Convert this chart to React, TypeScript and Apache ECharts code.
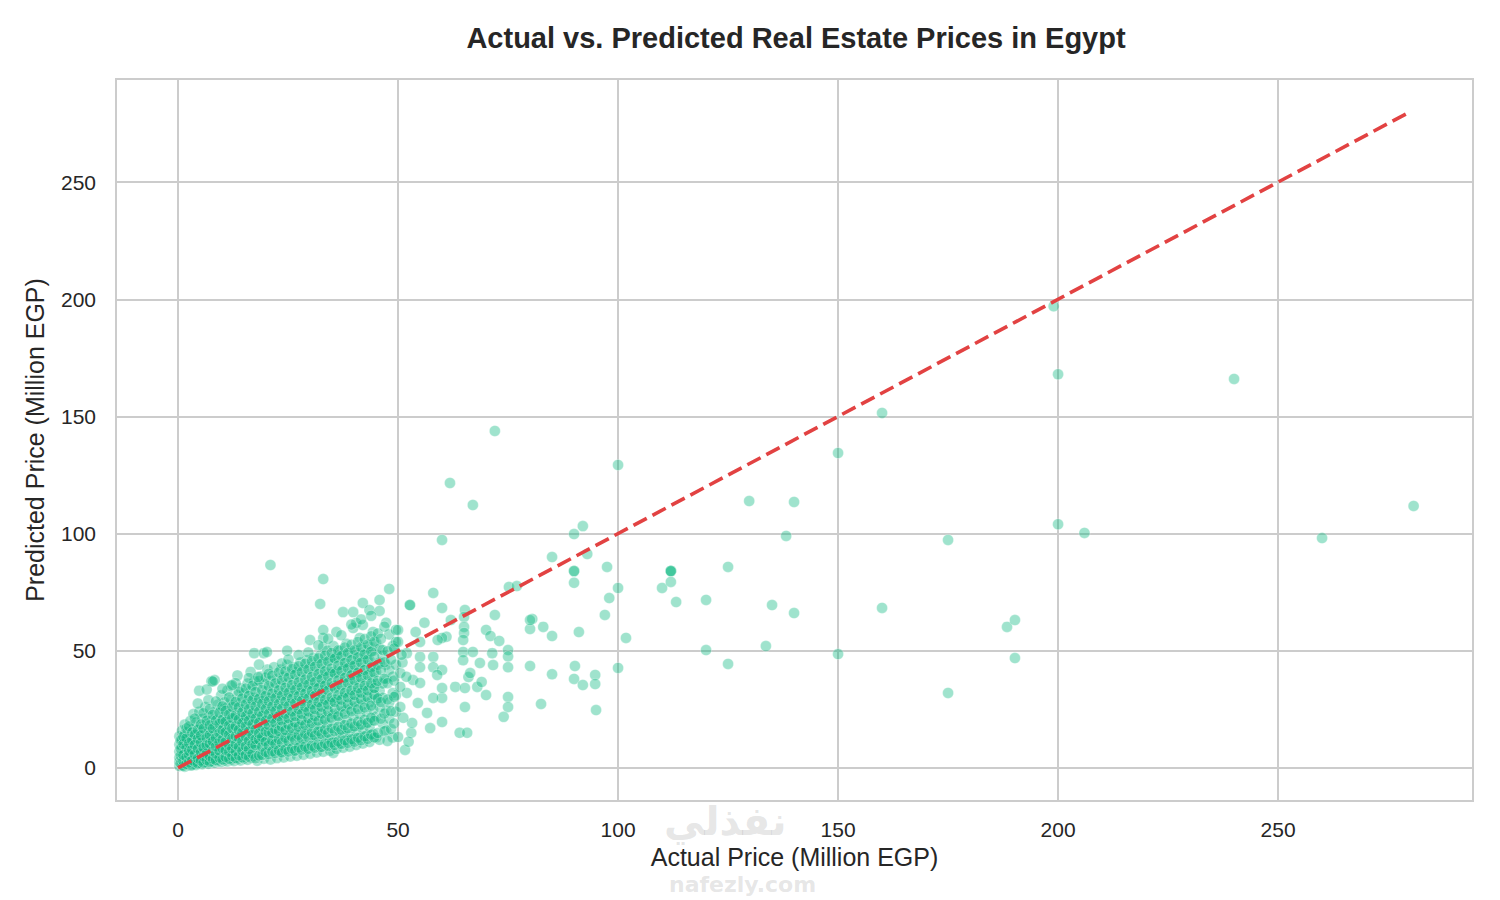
import { useEffect, useRef } from 'react';
import * as echarts from 'echarts';

// actual price (million EGP) vs predicted price (million EGP)
const TITLE = 'Actual vs. Predicted Real Estate Prices in Egypt';
const X_NAME = 'Actual Price (Million EGP)';
const Y_NAME = 'Predicted Price (Million EGP)';
const TICKS = [0, 50, 100, 150, 200, 250];
const PERFECT_LINE: [number, number][] = [[0, 0], [280, 280]];

// high priced properties, read one by one
const outlierPoints: [number, number][] = [
  [199, 197], [200, 168], [240, 166], [160, 151.5], [150, 134.4], [200, 104], [206, 100.3],
  [260, 98.1], [280.8, 111.8], [175, 97.3], [160, 68.3], [188.4, 60.2], [190.2, 63.1],
  [190.2, 46.9], [150, 48.6], [175, 32], [129.8, 113.9], [140, 113.5], [138.2, 99],
  [135, 69.5], [140, 66.1], [133.6, 52], [125, 44.4], [125, 85.8], [120, 71.7], [120, 50.3],
  [100, 129.3], [112, 84], [112, 84], [112, 84], [110, 76.8], [112, 79.4], [113.2, 70.8],
  [101.8, 55.5], [100, 42.7], [100, 76.8],
];

// middle range, 50 to 100, plus a few stray ones above the cluster
const midPoints: [number, number][] = [
  [72, 143.8], [61.8, 121.6], [67, 112.2], [90, 99.8], [92, 103.2], [60, 97.3], [85, 90],
  [93, 91.3], [97.5, 85.8], [90, 84], [90, 84], [90, 79], [98, 72.5], [97, 65.3], [91.1, 58],
  [90.2, 43.5], [90, 38], [92, 35.4], [94.8, 39.7], [94.8, 35.8], [95, 24.7], [85, 40],
  [80, 43.5], [82.5, 27.3], [83, 60.2], [85, 56.3], [80.5, 63.6], [80, 59.3], [72, 65.3],
  [75.2, 77.2], [77, 77.6], [70, 58.9], [71, 56.3], [73, 54.2], [75, 50.3], [75, 47.6],
  [75, 43], [71.6, 43.9], [71.4, 49], [68.6, 44.8], [68, 34.6], [69, 36.7], [70, 31.1],
  [75, 30.3], [75, 26], [74, 21.8], [65.2, 67.4], [65, 64.4], [65, 60.2], [65, 57.6],
  [64.8, 54.6], [64.8, 49.5], [64.8, 46], [67, 49.5], [66, 38.8], [66.4, 40.5], [63, 34.6],
  [65.2, 34.1], [65.2, 26], [64, 15], [65.7, 15], [60, 19.6], [60, 29.9], [60, 34.1],
  [62, 63.1], [60, 68.3], [58, 74.7], [61, 56], [60, 55.5], [59, 54.6], [55, 53.8],
  [55, 47.4], [58, 47.4], [55, 43], [58, 43], [60, 41.8], [58.9, 39.7], [52.7, 69.5],
  [52.7, 69.5], [50, 58.9], [50, 53.8], [50, 13.2], [51.6, 7.7], [53, 15], [53.2, 19.2],
  [57.3, 17], [56.6, 23.5], [54.5, 27.7], [58, 29.9], [50.5, 26], [52, 32], [53.4, 37.5],
  [55, 36.3], [50.5, 40.5], [50.5, 34.6], [51, 45], [52, 49], [54, 58], [56, 62], [80, 63.1],
  [51.2, 21.4], [52.4, 11.2], [50.8, 48.3], [51.9, 38.9],
  [12.3, 35.4], [18.2, 38.8], [21, 86.6], [20.2, 49.5],
];

// dense cluster below 50, written column by column: [actual, predicted values]
const clusterColumns: [number, number[]][] = [
  [0.3, [0.8, 2.5, 4.5, 7, 10, 13.5]],
  [0.9, [1.2, 3.5, 6, 9, 12, 16]],
  [1.5, [0.5, 2, 4, 7.5, 11, 14.5, 18.5]],
  [2.2, [1.5, 3.5, 6, 9, 12.5, 15.5]],
  [2.8, [1, 2.8, 5, 8, 11, 14, 20]],
  [3.5, [1.8, 4, 6.5, 9.5, 13, 17, 23]],
  [4.1, [1.3, 3, 5.5, 8.5, 11.5, 15, 19.5]],
  [4.8, [2.2, 4.5, 7, 10, 13.5, 17.5, 24, 33]],
  [5.5, [1.6, 3.5, 6, 9, 12, 15.5, 21]],
  [6.2, [2.4, 4.8, 7.5, 11, 14.5, 18.5, 26]],
  [6.9, [1.8, 4, 6.5, 9.5, 13, 16.5, 22, 29]],
  [7.6, [2.8, 5.5, 8.5, 12, 15.5, 20, 37]],
  [8.3, [2.2, 4.5, 7.5, 10.5, 14, 18, 24, 37.5]],
  [9.0, [3, 6, 9, 12.5, 16.5, 21, 27]],
  [9.8, [2.5, 5, 8, 11, 15, 19, 25, 31]],
  [10.5, [3.2, 6.5, 9.5, 13.5, 17.5, 22, 28]],
  [11.2, [2.8, 5.2, 8.5, 12, 16, 20.5, 26, 33]],
  [12.0, [3.5, 7, 10.5, 14.5, 18.5, 23, 29, 35]],
  [12.7, [3, 5.8, 9, 12.5, 16.5, 21, 27]],
  [13.5, [3.8, 7.5, 11, 15, 19.5, 24.5, 31, 39.5]],
  [14.2, [3.2, 6.2, 9.5, 13.5, 17.5, 22, 28, 34]],
  [15.0, [4, 8, 12, 16, 20.5, 25.5, 32]],
  [15.8, [3.5, 6.8, 10, 14, 18.5, 23, 29, 36]],
  [16.5, [4.3, 8.5, 12.5, 17, 21.5, 27, 33, 41]],
  [17.3, [5.1, 8.2, 10.5, 15, 19.5, 24.5, 30, 37, 49]],
  [18.0, [3.1, 10.4, 13, 17.5, 22, 28, 35]],
  [18.8, [6.2, 8.1, 11.5, 16, 20.5, 25.5, 31, 39]],
  [19.5, [3.9, 11.8, 14, 18.5, 23.5, 29, 36, 49]],
  [20.3, [6.8, 9.1, 12, 16.5, 21, 27, 33, 42]],
  [21.0, [3.6, 12.2, 14.5, 19.5, 24.5, 30, 37]],
  [21.8, [7.4, 9.9, 12.5, 17, 22, 27.5, 34, 43]],
  [22.5, [4.2, 8.4, 15.5, 20.5, 25.5, 31, 38]],
  [23.3, [6.9, 13.1, 13.5, 18, 23, 29, 35, 42]],
  [24.0, [4.5, 9.6, 16, 21, 26, 32, 39]],
  [24.8, [8.1, 11.7, 14, 19, 24, 30, 36, 44, 50]],
  [25.5, [4.9, 14.2, 16.5, 22, 27.5, 33, 40]],
  [26.3, [7.3, 9.2, 14.5, 19.5, 25, 31, 37, 43]],
  [27.0, [5.2, 13.6, 17.5, 23, 28.5, 34, 41]],
  [27.8, [8.8, 11.4, 15.5, 20.5, 26, 32, 38, 45]],
  [28.5, [5.6, 10.1, 18, 24, 29.5, 35, 42]],
  [29.3, [7.9, 14.4, 16, 21.5, 27, 33, 39, 46]],
  [30.0, [6.1, 11.6, 19, 25, 30.5, 36, 43, 54.6]],
  [30.8, [9.2, 13.8, 17, 22.5, 28, 34, 40, 47]],
  [31.5, [6.6, 12.1, 20, 26, 31.5, 37, 44]],
  [32.3, [8.8, 15.6, 17.5, 23.5, 29, 35, 41, 48, 70]],
  [33.0, [6.9, 12.8, 21, 27, 33, 38.5, 45, 51.6, 55.5, 58.9, 80.6]],
  [33.8, [9.9, 14.1, 18.5, 24.5, 30, 36, 42, 50]],
  [34.5, [7.4, 12.2, 21.5, 28, 34, 40, 46]],
  [35.3, [6.4, 11, 17, 23, 29, 35, 41, 47, 52]],
  [36.0, [8.1, 13.4, 22.5, 29, 35, 41, 47.5, 58]],
  [36.8, [10.6, 15.2, 19.5, 26, 32, 38, 44, 50]],
  [37.5, [8.6, 14.1, 24, 30, 36, 42, 48, 66.5]],
  [38.3, [11.7, 16.4, 20.5, 27, 33, 39, 45, 53]],
  [39.0, [9.1, 14.9, 25, 31, 37, 43, 49]],
  [39.8, [12.2, 17.8, 22, 28.5, 34.5, 40.5, 46.5, 59.7, 66.5]],
  [40.5, [9.8, 15.4, 26, 32, 38, 44, 50, 61.9]],
  [41.3, [12.9, 18.2, 23, 29.5, 35.5, 41.5, 47.5, 55.5]],
  [42.0, [10.4, 16.6, 27, 33, 39, 45, 51, 61, 70.4]],
  [42.8, [13.8, 19.1, 24, 30.5, 36.5, 42.5, 48.5]],
  [43.5, [11.1, 17.3, 28, 34, 40, 46, 52, 67.4]],
  [44.3, [14.6, 20.4, 25, 31.5, 37.5, 43.5, 50, 58]],
  [45.0, [13, 22, 29, 36, 41, 53.5]],
  [45.8, [12, 26, 33, 45, 51, 67, 71.7]],
  [46.5, [19, 30, 36, 48, 50.3]],
  [47.3, [16, 24.5, 38, 44, 62]],
  [48.0, [21, 28, 42, 57, 76.4]],
  [48.8, [13, 32, 39, 52]],
  [49.5, [24, 31, 44, 53.8, 58.9]],
];

// second pass over the same cluster, between the columns above
const clusterColumnsFill: [number, number[]][] = [
  [0.6, [2, 5.2, 8.3, 11.8]],
  [1.2, [0.9, 3.1, 5.6, 10.2, 13.4]],
  [1.9, [1.7, 4.6, 8.8, 12.7, 16.9]],
  [2.5, [2.4, 5.5, 7.3, 10.6, 17.8]],
  [3.2, [1.2, 3.3, 7.8, 11.9, 15.2]],
  [3.8, [2.6, 5.8, 9.9, 14.3, 21.1]],
  [4.5, [1.9, 4.1, 8.2, 12.4, 16.3, 27.5]],
  [5.2, [3.1, 6.7, 10.8, 13.9, 18.6]],
  [5.8, [2.2, 4.9, 8.7, 16.8, 23.4]],
  [6.5, [3.4, 6.1, 9.6, 12.9, 20.2, 33.5]],
  [7.2, [2.6, 5.1, 10.4, 14.1, 18.2, 25.1]],
  [7.9, [3.9, 7.2, 11.3, 16.9, 22.7, 36.9]],
  [8.6, [3.3, 6.1, 9.2, 12.8, 20.3, 28.4]],
  [9.4, [4.4, 7.4, 10.9, 14.8, 18.9, 23.6]],
  [10.1, [3.6, 8.3, 12.1, 16.2, 20.6, 26.3, 33.8]],
  [10.8, [4.7, 7.6, 11.2, 15.3, 19.8, 24.4]],
  [11.6, [3.9, 6.9, 9.8, 14.2, 18.1, 22.9, 30.1]],
  [12.3, [5.1, 8.4, 12.6, 16.9, 21.3, 26.1]],
  [13.1, [4.2, 7.1, 10.2, 13.6, 17.8, 22.4, 28.3, 36.2]],
  [13.8, [5.4, 9.1, 12.9, 16.2, 20.7, 25.9, 32.6]],
  [14.6, [4.5, 7.4, 11.3, 15.1, 19.2, 23.8, 29.7]],
  [15.4, [5.6, 9.3, 13.4, 17.9, 22.1, 27.2, 33.9]],
  [16.1, [4.8, 8.1, 11.7, 15.6, 20.2, 25.1, 30.8, 38.4]],
  [16.9, [6.1, 10.2, 14.1, 18.6, 23.3, 28.9, 35.1]],
  [17.6, [4.1, 9.7, 12.3, 16.4, 21.1, 26.3, 32.4]],
  [18.4, [5.3, 12.1, 14.8, 19.3, 24.1, 29.6, 37.2, 44.1]],
  [19.1, [5.5, 9.1, 13.2, 17.6, 22.2, 27.4, 33.3]],
  [19.9, [6.8, 11.2, 15.6, 20.1, 25.2, 30.8, 38.6]],
  [20.6, [5.9, 9.6, 15.1, 18.3, 23.1, 28.6, 34.9, 40.2]],
  [21.4, [7.1, 11.7, 14.9, 21.1, 26.2, 31.8, 39.4]],
  [22.1, [6.3, 10.2, 16.4, 19.2, 24.3, 29.8, 36.1]],
  [22.9, [7.5, 12.3, 15.8, 22.1, 27.3, 33.2, 40.8]],
  [23.6, [6.6, 10.8, 17.6, 20.2, 25.3, 30.9, 37.4, 44.6]],
  [24.4, [7.9, 12.9, 16.2, 23.1, 28.4, 34.3, 41.2]],
  [25.1, [7, 11.4, 18.5, 21.2, 26.4, 32.1, 38.6, 46.3]],
  [25.9, [8.3, 13.4, 17.1, 24.1, 29.6, 35.4, 42.3]],
  [26.6, [7.4, 11.9, 19.4, 22.1, 27.6, 33.3, 39.8]],
  [27.4, [8.7, 14.1, 17.6, 25.1, 30.7, 36.6, 43.4, 48.2]],
  [28.1, [7.8, 12.6, 20.3, 23.1, 28.6, 34.4, 40.9]],
  [28.9, [9.1, 14.6, 18.4, 26.1, 31.8, 37.8, 44.5]],
  [29.6, [8.2, 13.1, 21.2, 24.1, 29.7, 35.6, 42.1, 49.3]],
  [30.4, [9.5, 15.2, 19.2, 27.1, 32.9, 38.9, 45.6]],
  [31.1, [8.6, 13.8, 22.1, 25.1, 30.8, 36.7, 43.2]],
  [31.9, [10, 15.8, 20.1, 28.1, 34.1, 40.1, 46.8, 52.4]],
  [32.6, [9, 14.4, 23.2, 26.1, 31.9, 37.9, 44.4]],
  [33.4, [10.4, 16.4, 20.6, 29.1, 35.2, 41.3, 47.9]],
  [34.1, [9.4, 15, 24.1, 27.1, 33, 39.1, 45.5, 55.1]],
  [34.9, [10.8, 17, 21.3, 30.1, 36.3, 42.5, 49.1]],
  [35.6, [9.8, 15.7, 25.1, 28.1, 34.1, 40.3, 46.7]],
  [36.4, [11.3, 17.6, 22.1, 31.1, 37.4, 43.7, 50.2]],
  [37.1, [10.2, 16.3, 26.2, 29.1, 35.2, 41.4, 47.8, 56.6]],
  [37.9, [11.8, 18.3, 23.1, 32.1, 38.5, 44.9, 51.4]],
  [38.6, [10.7, 17, 27.1, 30.1, 36.3, 42.6, 49.1]],
  [39.4, [12.3, 19, 24.2, 33.1, 39.6, 46.1, 52.6, 61.2]],
  [40.1, [11.2, 17.7, 28.1, 31.1, 37.4, 43.8, 50.3]],
  [40.9, [12.9, 19.8, 25.1, 34.1, 40.7, 47.3, 53.8]],
  [41.6, [11.8, 18.5, 29.2, 32.1, 38.5, 45, 51.5, 63.4]],
  [42.4, [13.5, 20.6, 25.8, 35.1, 41.8, 48.5, 55]],
  [43.1, [12.4, 19.3, 30.1, 33.1, 39.6, 46.2, 52.7]],
  [43.9, [14.2, 21.4, 26.6, 36.1, 42.9, 49.7, 56.2, 64.9]],
  [44.6, [13, 20.1, 31.2, 34.1, 40.7, 47.4, 53.9]],
  [45.4, [14.9, 29.7, 37.1, 44, 57.4]],
  [46.1, [21, 28.1, 41.8, 55.1]],
  [46.9, [15.7, 23.2, 38.1, 45.1, 60.3]],
  [47.6, [11.5, 29.2, 36.2, 49.8]],
  [48.4, [16.6, 24.2, 46.2]],
  [49.1, [19, 30.3, 37.3, 51]],
];

const TEXT = '#262626';
const GRID = '#cccccc';
const FONT = '"Liberation Sans", Arial, Helvetica, sans-serif';

const App = () => {
  const chartRef = useRef<HTMLDivElement | null>(null);

  useEffect(() => {
    if (!chartRef.current) return;
    const chart = echarts.init(chartRef.current, undefined, { renderer: 'svg' });

    const clusterPoints: [number, number][] = [];
    clusterColumns.forEach(([x, ys]) => ys.forEach((y) => clusterPoints.push([x, y])));
    clusterColumnsFill.forEach(([x, ys]) => ys.forEach((y) => clusterPoints.push([x, y])));
    const points = [...clusterPoints, ...midPoints, ...outlierPoints];

    const option = {
      animation: false,
      backgroundColor: '#ffffff',
      textStyle: { fontFamily: FONT },
      title: {
        text: TITLE,
        left: 791,
        textAlign: 'center',
        top: 18,
        textStyle: { fontFamily: FONT, fontSize: 29, fontWeight: 'bold', color: TEXT },
      },
      grid: {
        left: 116,
        right: 27,
        top: 79,
        bottom: 99,
        show: true,
        borderColor: GRID,
        borderWidth: 2,
        backgroundColor: 'transparent',
      },
      xAxis: {
        type: 'value',
        min: -14.1,
        max: 294.3,
        name: X_NAME,
        nameLocation: 'middle',
        nameGap: 43,
        nameTextStyle: { fontFamily: FONT, fontSize: 25, color: TEXT },
        axisLine: { show: false },
        axisTick: { show: false, customValues: TICKS },
        axisLabel: { customValues: TICKS, margin: 18, fontSize: 21, color: TEXT, fontFamily: FONT },
        splitLine: { show: true, lineStyle: { color: GRID, width: 2 } },
      },
      yAxis: {
        type: 'value',
        min: -14.1,
        max: 294,
        name: Y_NAME,
        nameLocation: 'middle',
        nameGap: 69,
        nameTextStyle: { fontFamily: FONT, fontSize: 25, color: TEXT },
        axisLine: { show: false },
        axisTick: { show: false, customValues: TICKS },
        axisLabel: { customValues: TICKS, margin: 20, fontSize: 21, color: TEXT, fontFamily: FONT },
        splitLine: { show: true, lineStyle: { color: GRID, width: 2 } },
      },
      series: [
        {
          type: 'scatter',
          data: points,
          symbolSize: 11,
          large: false,
          progressive: 0,
          itemStyle: { color: '#10b981', opacity: 0.4, borderColor: '#ffffff', borderWidth: 0.8 },
          silent: true,
          z: 2,
        },
        {
          type: 'line',
          data: PERFECT_LINE,
          showSymbol: false,
          symbol: 'none',
          lineStyle: { color: '#e24242', width: 3.6, type: [15, 6.5] },
          silent: true,
          z: 3,
        },
      ],
      graphic: [
        {
          type: 'text',
          left: 664,
          top: 801,
          z: 10,
          silent: true,
          style: {
            text: 'نفذلي',
            fontFamily: '"DejaVu Sans", sans-serif',
            fontSize: 40,
            fontWeight: 'bold',
            fill: 'rgba(170,170,170,0.3)',
          },
        },
        {
          type: 'text',
          left: 669,
          top: 873,
          z: 10,
          silent: true,
          style: {
            text: 'nafezly.com',
            fontFamily: '"DejaVu Sans", sans-serif',
            fontSize: 22,
            fontWeight: 'bold',
            fill: 'rgba(170,170,170,0.3)',
          },
        },
      ],
    };

    chart.setOption(option);
    return () => {
      chart.dispose();
    };
  }, []);

  return (
    <div
      ref={chartRef}
      style={{ position: 'fixed', left: 0, top: 0, width: 1500, height: 900, background: '#fff' }}
    />
  );
};

export default App;
